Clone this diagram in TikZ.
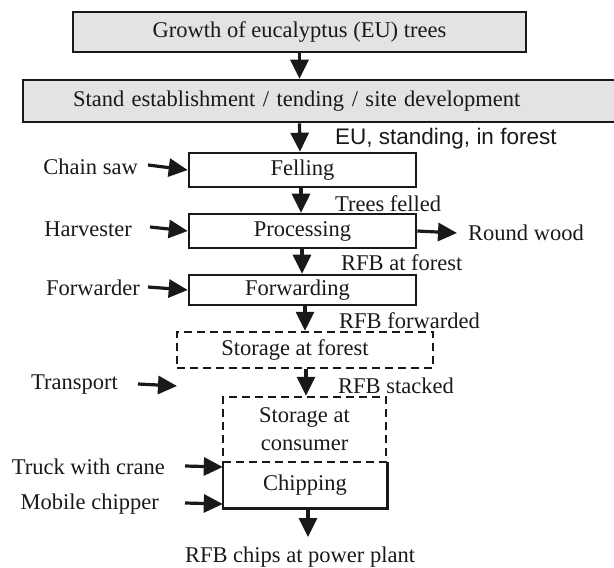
\documentclass[tikz,border=0pt]{standalone}
\usepackage{fontspec}
\setmainfont{Liberation Serif}
\newfontfamily\sansf{Liberation Sans}
\usetikzlibrary{arrows.meta}
\definecolor{boxgray}{RGB}{227,227,227}
\definecolor{ink}{RGB}{25,25,25}
\begin{document}
\begin{tikzpicture}[x=1pt,y=-1pt,
  every node/.style={font=\fontsize{22.5}{28}\selectfont, text=ink},
  box/.style={draw=ink, line width=2.6pt, rectangle, inner sep=0pt},
  graybox/.style={box, fill=boxgray},
  dbox/.style={box, line width=2.4pt, dash pattern=on 8pt off 5pt},
  lab/.style={inner sep=0pt},
  arr/.style={draw=ink, line width=3.2pt, -{Triangle[length=19pt,width=18pt]}}]
\useasboundingbox (0,0) rectangle (614,568);
% boxes
\node[graybox, minimum width=453pt, minimum height=40pt] (b1) at (299.5,32) {Growth of eucalyptus (EU) trees};
\node[graybox, minimum width=597pt, minimum height=42pt, inner xsep=50pt, text width=497pt, align=left] (b2) at (321.5,101) {Stand establishment / tending / site development};
\node[box, minimum width=227pt, minimum height=34pt] (fell) at (302.5,170) {Felling};
\node[box, minimum width=227pt, minimum height=34pt] (proc) at (302.5,231) {Processing};
\node[box, minimum width=227pt, minimum height=30pt] (fwd) at (302.5,290) {\hspace*{-10pt}Forwarding};
\node[dbox, minimum width=256pt, minimum height=36pt] (sf) at (305,350) {\hspace*{-20pt}Storage at forest};
\node[dbox, minimum width=163pt, minimum height=65pt, align=center] (sc) at (304.5,429.5) {Storage at\\consumer};
\node[inner sep=0pt, minimum width=164pt, minimum height=46pt] (chip) at (305,485) {\raisebox{5pt}{Chipping}};
\draw[ink, line width=2.6pt] (chip.north west) -- (chip.south west) -- (chip.south east) -- (chip.north east);
% left labels
\node[lab, anchor=east] (cs) at (138,167) {Chain saw};
\node[lab, anchor=east] (hv) at (132,229) {Harvester};
\node[lab, anchor=east] (fw) at (140,288) {Forwarder};
\node[lab, anchor=east] (tr) at (118,385) {Transport};
\node[lab, anchor=east] (tc) at (165,467) {Truck with crane};
\node[lab, anchor=east] (mc) at (159,504) {Mobile chipper};
% right labels
\node[lab, anchor=west, font=\sansf\fontsize{22.5}{28}\selectfont] (l1) at (335,139) {EU, standing, in forest};
\node[lab, anchor=west] (l2) at (335,204) {Trees felled};
\node[lab, anchor=west] (l3) at (341,263) {RFB at forest};
\node[lab, anchor=west] (l4) at (339,321) {RFB forwarded};
\node[lab, anchor=west] (l5) at (338,386) {RFB stacked};
\node[lab, anchor=west] (rw) at (468,233) {Round wood};
\node[lab] (out) at (300,557) {RFB chips at power plant};
\coordinate (outend) at (308,537);
\coordinate (trend) at (177,386);
% vertical arrows
\draw[arr] (b1.south) -- (b1.south |- b2.north);
\draw[arr] (b1.south |- b2.south) -- ([xshift=-2.5pt]fell.north);
\draw[arr] ([xshift=-1.5pt]fell.south) -- ([xshift=-1.5pt]proc.north);
\draw[arr] ([xshift=-0.5pt]proc.south) -- ([xshift=-0.5pt]fwd.north);
\draw[arr] ([xshift=2.5pt]fwd.south) -- (sf.north);
\draw[arr] ([xshift=1pt]sf.south) -- ([xshift=1.5pt]sc.north);
\draw[arr] ([xshift=3pt]chip.south) -- (outend);
% horizontal arrows
\draw[arr] ([xshift=10pt,yshift=2pt]cs.east) -- (fell.west);
\draw[arr] ([xshift=18pt,yshift=2pt]hv.east) -- (proc.west);
\draw[arr] ([xshift=8pt,yshift=1pt]fw.east) -- (fwd.west);
\draw[arr] ([xshift=20pt,yshift=1pt]tr.east) -- (trend);
\draw[arr] ([xshift=20pt,yshift=1pt]tc.east) -- (tc.east -| chip.west);
\draw[arr] ([xshift=26pt,yshift=1pt]mc.east) -- (mc.east -| chip.west);
\draw[arr] (proc.east) -- ([xshift=-11pt]rw.west);
\end{tikzpicture}
\end{document}
